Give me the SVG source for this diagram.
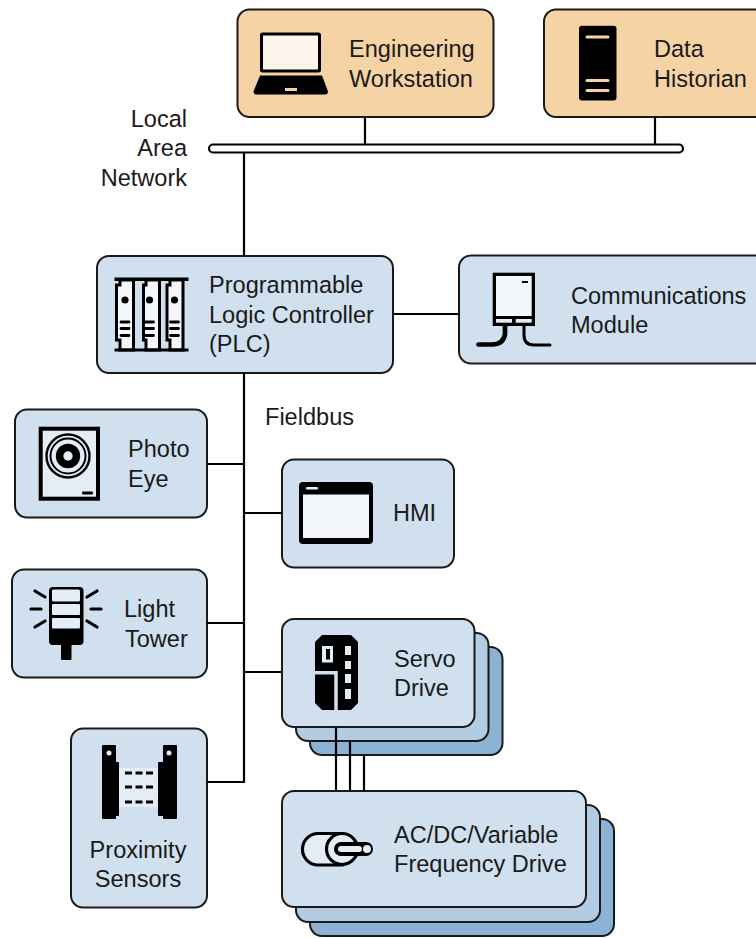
<svg xmlns="http://www.w3.org/2000/svg" width="756" height="938" viewBox="0 0 756 938">
<style>
text{font-family:"Liberation Sans",Arial,sans-serif;font-size:23.55px;fill:#1a1a1a}
.c{text-anchor:middle}.r{text-anchor:end}
.card{stroke:#1a1a1a;stroke-width:2}
.tan{fill:#f5d3a5}.b1{fill:#d0e0ee}.b2{fill:#b4cce2}.b3{fill:#8cb3d6}
.w{stroke:#000;stroke-width:2.2;fill:none}
.k{fill:#000}.lt{fill:#f3f7fb}.lm{fill:#e4edf5}
.ik{stroke:#000;fill:none;stroke-linecap:round}
.mod{fill:#f3f7fb;stroke:#000;stroke-width:3}
</style>
<g id="bus"><rect x="209" y="144.500" width="474" height="8" rx="4" fill="#fff" stroke="#000" stroke-width="2.2"/></g>
<text class="r" x="187" y="127">Local</text><text class="r" x="187" y="156">Area</text><text class="r" x="187" y="186">Network</text>
<text x="265" y="424.500">Fieldbus</text>
<g id="engineering-workstation">
<rect class="card tan" x="237.500" y="9.500" width="256" height="107.500" rx="12"/>
<rect x="261.500" y="34" width="58" height="37" fill="#fdf5ec" stroke="#000" stroke-width="3" rx="1"/>
<path class="k" d="M260 75.500H322L328 91.500Q328 94.500 325 94.500H256.500Q253.500 94.500 253.500 91.500Z"/>
<rect x="285" y="88" width="12" height="3" fill="#f5d3a5"/>
<text x="349" y="57">Engineering</text><text x="349" y="86.500">Workstation</text>
</g>
<g id="data-historian">
<rect class="card tan" x="544" y="9.500" width="240" height="107.500" rx="12"/>
<rect class="k" x="579" y="25.800" width="37.500" height="74.800" rx="3"/>
<path d="M587 37H608M587 80.500H608M587 90.500H608" stroke="#f5d3a5" stroke-width="3" stroke-linecap="round"/>
<text x="654" y="57">Data</text><text x="654" y="86.500">Historian</text>
</g>
<g id="plc">
<rect class="card b1" x="97" y="256" width="296" height="117" rx="12"/>
<path class="mod" d="M120 280V285H116.500V340H120V350H133.500V280Z"/>
<path class="mod" d="M146 280V285H143.500V340H146V350H159.500V280Z"/>
<path class="mod" d="M170 280V285H167V340H170V350H183V280Z"/>
<rect class="k" x="114.500" y="277.500" width="74" height="3.500"/><rect class="k" x="114.500" y="348.500" width="74" height="3"/>
<circle class="k" cx="125" cy="300" r="3.600"/><circle class="k" cx="149.500" cy="300" r="3.600"/><circle class="k" cx="174.500" cy="300" r="3.600"/>
<path d="M121 322H129M121 328.500H129M121 335.500H129M145.500 322H153.500M145.500 328.500H153.500M145.500 335.500H153.500M170.500 322H178.500M170.500 328.500H178.500M170.500 335.500H178.500" stroke="#000" stroke-width="2.800" stroke-linecap="round"/>
<text x="209" y="293">Programmable</text><text x="209" y="323">Logic Controller</text><text x="209" y="352">(PLC)</text>
</g>
<g id="communications-module">
<rect class="card b1" x="459" y="255.500" width="320" height="108" rx="12"/>
<path d="M505 325V334Q503.500 344.500 492 344.500H478.500" stroke="#000" stroke-width="4.700" fill="none" stroke-linecap="round"/>
<path d="M524 325V335Q524 345 534 345H550" stroke="#000" stroke-width="3" fill="none" stroke-linecap="round"/>
<rect class="k" x="492.700" y="272.700" width="42.300" height="53.300"/>
<rect class="lt" x="496" y="276" width="35.700" height="40"/>
<rect class="lm" x="496" y="319" width="16" height="3.700"/><rect class="lm" x="515.700" y="319" width="16" height="3.700"/>
<rect class="k" x="522" y="281" width="6" height="2"/>
<text x="571" y="303.500">Communications</text><text x="571" y="333">Module</text>
</g>
<g id="photo-eye">
<rect class="card b1" x="15" y="409.500" width="192" height="108" rx="12"/>
<rect class="lm" x="40.700" y="428.700" width="57.300" height="70" stroke="#000" stroke-width="4"/>
<circle cx="68" cy="456" r="21.500" fill="none" stroke="#000" stroke-width="2.400"/>
<circle cx="68" cy="456" r="17.500" fill="none" stroke="#000" stroke-width="2"/>
<circle class="k" cx="68" cy="456" r="12.200"/><circle class="lm" cx="68" cy="456" r="4.700"/>
<rect class="k" x="82" y="491.500" width="11" height="3" rx="1"/>
<text x="128" y="457">Photo</text><text x="128" y="487">Eye</text>
</g>
<g id="hmi">
<rect class="card b1" x="282" y="459.500" width="172" height="108" rx="12"/>
<rect class="k" x="299" y="482" width="74" height="62" rx="4"/>
<rect class="lt" x="303" y="494.500" width="66" height="43.500"/>
<rect x="306" y="487" width="12" height="2.500" rx="1" fill="#e4edf5"/>
<text x="393" y="521">HMI</text>
</g>
<g id="light-tower">
<rect class="card b1" x="12" y="569.500" width="195" height="108" rx="12"/>
<rect class="k" x="49" y="587" width="34.500" height="58" rx="4"/>
<rect class="k" x="61" y="644" width="10.500" height="16" rx="1"/>
<rect class="lm" x="52" y="589.500" width="28" height="12" rx="1.500"/><rect class="lm" x="52" y="604" width="28" height="11" rx="1"/><rect class="lm" x="52" y="618" width="28" height="10.500" rx="1"/>
<path class="ik" stroke-width="3.200" d="M35 591L45 597M31 609H41M35 627L45 621M97 591L87 597M91 609H101M97 627L87 621"/>
<text x="124" y="617">Light</text><text x="125" y="646.500">Tower</text>
</g>
<g id="servo-drive">
<rect class="card b3" x="310" y="647" width="192.500" height="108" rx="12"/>
<rect class="card b2" x="296" y="633" width="192.500" height="108" rx="12"/>
<rect class="card b1" x="282" y="619" width="192.500" height="108" rx="12"/>
<path class="k" d="M322 635H351L358 642V703L351 710H322L315 703V642Z"/>
<rect class="lm" x="322" y="646" width="11" height="16.500"/><rect class="k" x="326" y="649" width="4" height="10.500"/>
<path class="lm" d="M345 646H351V655H345ZM345 661H351V669H345ZM345 674H351V683H345ZM345 689H351V699H345Z"/>
<path d="M315 672.800H336V710" stroke="#d0e0ee" stroke-width="3.500" fill="none"/>
<text x="394" y="667">Servo</text><text x="394" y="696">Drive</text>
</g>
<g id="proximity-sensors">
<rect class="card b1" x="71" y="728.500" width="136" height="179" rx="12"/>
<rect class="lm" x="119" y="768" width="40" height="39"/>
<path class="k" d="M103 745H115Q116 745 116 746V762H118Q119 762 119 763V815Q119 816 118 816H116V818Q116 819 115 819H103Q102 819 102 818V746Q102 745 103 745Z"/>
<path class="k" d="M176 745H164Q163 745 163 746V762H159Q158 762 158 763V815Q158 816 159 816H163V818Q163 819 164 819H176Q177 819 177 818V746Q177 745 176 745Z"/>
<circle class="lm" cx="109" cy="753" r="2.500"/><circle class="lm" cx="169" cy="753" r="2.500"/>
<path d="M125 773H153M125 787H153M125 802H153" stroke="#000" stroke-width="3" stroke-dasharray="7 3.500"/>
<text class="c" x="138" y="857.500">Proximity</text><text class="c" x="138" y="887">Sensors</text>
</g>
<g id="vfd">
<rect class="card b3" x="310" y="819" width="304" height="117" rx="12"/>
<rect class="card b2" x="296" y="805" width="304" height="117" rx="12"/>
<rect class="card b1" x="282" y="791" width="304" height="116" rx="12"/>
<path class="lm" d="M317 833.500H342V865H317A15.800 15.800 0 0 1 317 833.500Z" stroke="#000" stroke-width="3.200"/>
<circle class="lm" cx="342" cy="849" r="15.500" stroke="#000" stroke-width="3.200"/>
<rect class="k" x="334" y="842" width="39" height="14" rx="7"/><rect class="lm" x="338" y="846" width="24" height="6" rx="3"/>
<circle class="lm" cx="367" cy="849" r="4"/>
<text x="394" y="842.500">AC/DC/Variable</text><text x="394" y="872">Frequency Drive</text>
</g>
<g id="connectors">
<path class="w" d="M365 117V144.500M655 117V144.500M244 152.500V256M393 314H459M244 373V782H207M207 464H244M244 513H282M207 623H244M244 672H282"/>
<path class="w" d="M336 727V791M350 741V791M364 755V791"/>
</g>
</svg>
